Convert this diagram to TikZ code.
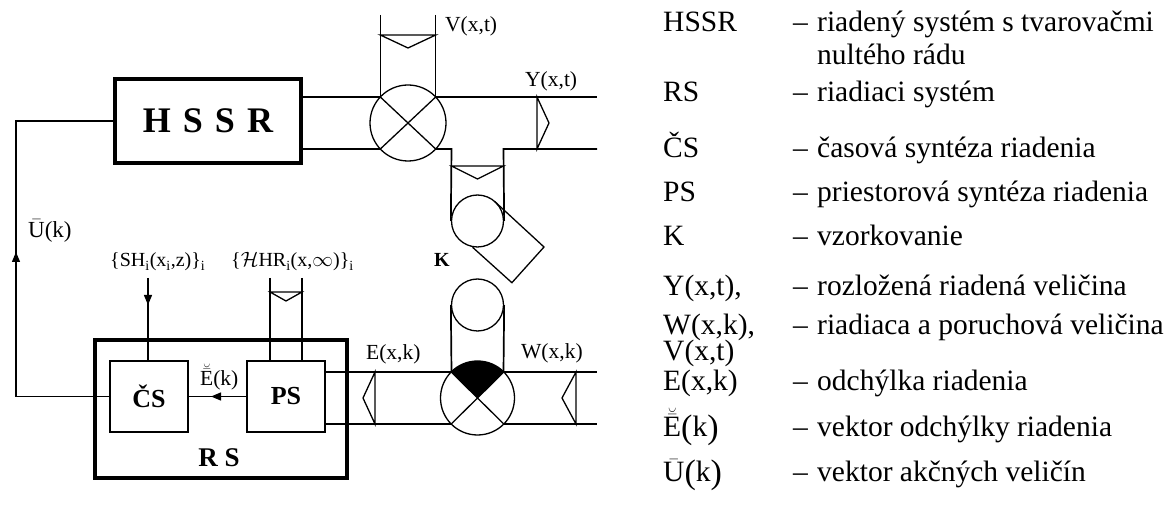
\documentclass[tikz,border=0pt]{standalone}
\usepackage{fontspec}
\setmainfont{Liberation Serif}
\setmathrm{Liberation Serif}
\usetikzlibrary{arrows.meta}
\newcommand{\bigpl}{\raisebox{-1.5pt}{\fontsize{34}{34}\selectfont(}}
\newcommand{\bigpr}{\raisebox{-1.5pt}{\fontsize{34}{34}\selectfont)}}
\begin{document}
\begin{tikzpicture}[x=1pt,y=-1pt,
  thinline/.style={line width=1.3pt},
  pipeline/.style={line width=1.7pt},
  thickbox/.style={draw, line width=4pt, inner sep=0pt},
  midbox/.style={draw, line width=2.2pt, inner sep=0pt, minimum width=78pt, minimum height=71pt, font=\fontsize{26}{30}\selectfont\bfseries},
  lbl/.style={inner sep=0pt, anchor=base west, font=\fontsize{21.5}{24}\selectfont},
  leg/.style={inner sep=0pt, anchor=base west, font=\fontsize{29.5}{33}\selectfont},
  headarrow/.style={line width=1.3pt, -{Triangle[length=10pt,width=8pt]}},
  ring/.style={circle, draw, line width=1.3pt, inner sep=0pt},
]
\useasboundingbox (0,0) rectangle (1171,518);

% ---------- main blocks ----------
\node[thickbox, minimum width=186pt, minimum height=84pt, font=\fontsize{36}{40}\selectfont\bfseries] (hssr) at (208,121) {H\hspace{12pt}S\hspace{12pt}S\hspace{12pt}R};
\node[thickbox, minimum width=252pt, minimum height=138pt] (rs) at (221,409) {};
\node[inner sep=0pt, font=\fontsize{27}{30}\selectfont\bfseries] (rslbl) at (219,458) {R S};
\node[midbox] (cs) at (149,396.5) {ČS};
\node[midbox] (ps) at (286,396.5) {PS};

% ---------- circles ----------
\begin{scope}
\clip (477.5,398) circle[radius=37pt];
\fill (477.5,398) -- (424.9,346) -- (424.9,300) -- (530.1,300) -- (530.1,346) -- cycle;
\end{scope}
\node[ring, minimum size=76pt] (c1) at (408,123) {};
\node[ring, minimum size=74pt] (c2) at (477.5,398) {};
\node[ring, minimum size=52pt] (k1) at (477.5,221) {};
\node[ring, minimum size=52pt] (k2) at (477.5,305) {};

% ---------- upper pipe ----------
\draw[pipeline] (hssr.east |- 0,97) -- (380.3,97);
\draw[pipeline] (hssr.east |- 0,149) -- (380.3,149);
\draw[thinline] (380.3,97) -- (435.7,149) (435.7,97) -- (380.3,149);
\draw[thinline] (380.3,15) -- (380.3,97) (435.7,15) -- (435.7,97);
\draw[thinline] (380.3,35) -- (408,48) -- (435.7,35) -- cycle;
\draw[pipeline] (435.7,97) -- (597,97);
\draw[pipeline] (435.7,149) -- (451.5,149) -- (k1.west);
\draw[pipeline] (597,149) -- (503.5,149) -- (k1.east);
\draw[thinline] (451.5,166) -- (477.5,179) -- (503.5,166) -- cycle;
\draw[thinline] (537,97) -- (549,123) -- (537,149) -- cycle;
% sampler switch
\draw[thinline] (494.9,201.7) -- (544,247) -- (511.9,282.7) -- (472.6,247.3);

% ---------- lower pipe ----------
\draw[pipeline] (k2.west) -- (451.5,372);
\draw[pipeline] (k2.east) -- (503.5,372);
\draw[pipeline] (ps.east |- 0,372) -- (451.2,372);
\draw[pipeline] (ps.east |- 0,424) -- (451.2,424);
\draw[pipeline] (503.8,372) -- (597,372);
\draw[pipeline] (503.8,424) -- (597,424);
\draw[thinline] (451.2,372) -- (503.8,424) (503.8,372) -- (451.2,424);
\draw[thinline] (375,372) -- (363,398) -- (375,424) -- cycle;
\draw[thinline] (576,372) -- (562,398) -- (576,424) -- cycle;

% ---------- control system signals ----------
\draw[thinline] (ps.west) -- (cs.east);
\draw[headarrow] (226,396.5) -- (211,396.5);
\coordinate (fbb) at (16,396.5);
\coordinate (fbt) at (16,121);
\draw[thinline] (cs.west) -- (fbb) -- (fbt) -- (hssr.west);
\draw[headarrow] (16,275) -- (16,252);
\coordinate (shtop) at (148,278);
\draw[thinline] (shtop) -- (cs.north -| shtop);
\draw[headarrow] (148,285) -- (148,305);
\coordinate (hrl) at (270,278);
\coordinate (hrr) at (302,278);
\draw[thinline] (hrl) -- (ps.north -| hrl) (hrr) -- (ps.north -| hrr);
\draw[thinline] (270,292) -- (286,301) -- (302,292) -- cycle;

% ---------- diagram labels ----------
\node[lbl] (lv) at (445,32) {V(x,t)};
\node[lbl] (ly) at (525,87) {Y(x,t)};
\node[lbl] (le) at (366,360) {E(x,k)};
\node[lbl] (lw) at (521,359) {W(x,k)};
\node[lbl, font=\fontsize{23}{26}\selectfont] (lu) at (28,238) {$\bar{\mathrm{U}}$(k)};
\node[lbl, font=\fontsize{20}{22}\selectfont] (lsh) at (110,267) {\{SH\textsubscript{i}(x\textsubscript{i},z)\}\textsubscript{i}};
\node[lbl, font=\fontsize{20}{22}\selectfont] (lhr) at (231,267) {\{$\mathcal{H}$HR\textsubscript{i}(x,$\infty$)\}\textsubscript{i}};
\node[lbl] (lek) at (200,386) {\smash{$\breve{\bar{\mathrm{E}}}$(k)}};
\node[inner sep=0pt, font=\fontsize{20}{22}\selectfont\bfseries] (lk) at (442,260) {K};

% ---------- legend ----------
\node[leg] (a1) at (663,32) {HSSR};
\node[leg] (a2) at (663,102) {RS};
\node[leg] (a3) at (663,158) {ČS};
\node[leg] (a4) at (663,202) {PS};
\node[leg] (a5) at (663,246) {K};
\node[leg] (a6) at (663,296) {Y(x,t),};
\node[leg] (a7) at (663,335) {W(x,k),};
\node[leg] (a8) at (663,361) {\smash{V(x,t)}};
\node[leg] (a9) at (663,391) {E(x,k)};
\node[leg] (a10) at (663,437) {\smash{$\breve{\bar{\mathrm{E}}}$\bigpl k\bigpr}};
\node[leg] (a11) at (663,482) {\smash{$\bar{\mathrm{U}}$\bigpl k\bigpr}};

\foreach \yy in {32,102,158,202,246,296,335,391,437,482}
  \node[leg] at (793,\yy) {–};

\node[leg] (b1) at (817,32) {riadený systém s tvarovačmi};
\node[leg] (b1b) at (817,65) {nultého rádu};
\node[leg] (b2) at (817,102) {riadiaci systém};
\node[leg] (b3) at (817,158) {časová syntéza riadenia};
\node[leg] (b4) at (817,202) {priestorová syntéza riadenia};
\node[leg] (b5) at (817,246) {vzorkovanie};
\node[leg] (b6) at (817,296) {rozložená riadená veličina};
\node[leg] (b7) at (817,335) {riadiaca a poruchová veličina};
\node[leg] (b9) at (817,391) {odchýlka riadenia};
\node[leg] (b10) at (817,437) {vektor odchýlky riadenia};
\node[leg] (b11) at (817,482) {vektor akčných veličín};
\end{tikzpicture}
\end{document}
